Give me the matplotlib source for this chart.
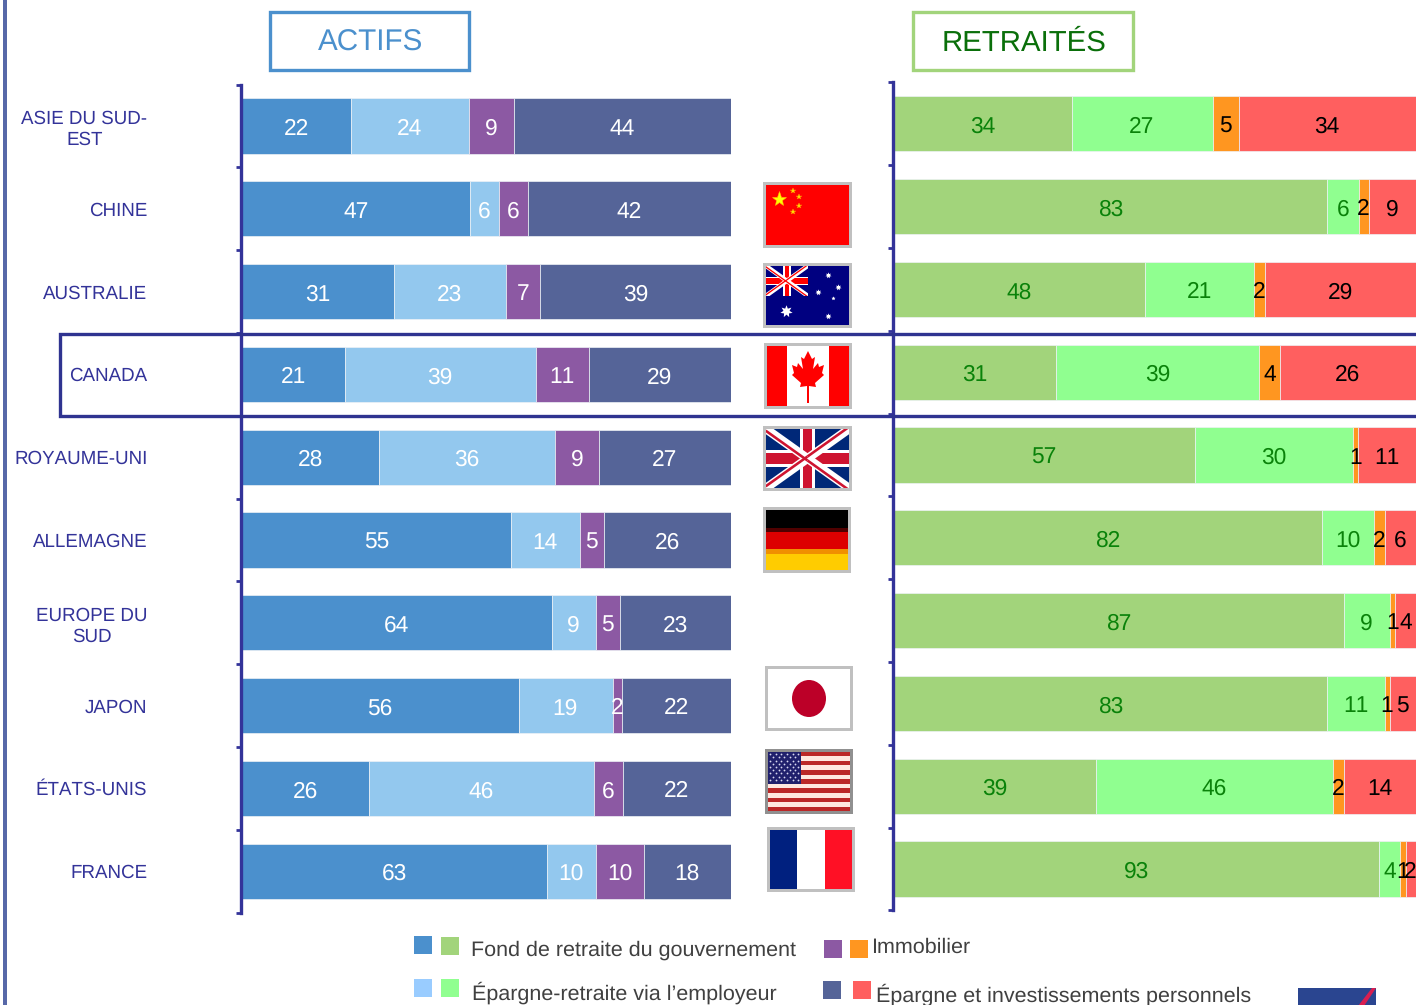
import numpy as np
import matplotlib
matplotlib.use("Agg")
import matplotlib.pyplot as plt
from matplotlib.patches import Rectangle, Ellipse, Polygon

plt.rcParams["font.family"] = ["Liberation Sans", "DejaVu Sans"]
plt.rcParams["text.hinting"] = "no_hinting"
plt.rcParams["text.kerning_factor"] = 16

W, H = 1416, 1005

# Data
countries = [
    "ASIE DU SUD-\nEST", "CHINE", "AUSTRALIE", "CANADA", "ROYAUME-UNI",
    "ALLEMAGNE", "EUROPE DU\nSUD", "JAPON", "ÉTATS-UNIS", "FRANCE",
]
actifs_gouv = [22, 47, 31, 21, 28, 55, 64, 56, 26, 63]
actifs_empl = [24, 6, 23, 39, 36, 14, 9, 19, 46, 10]
actifs_immo = [9, 6, 7, 11, 9, 5, 5, 2, 6, 10]
actifs_perso = [44, 42, 39, 29, 27, 26, 23, 22, 22, 18]

retr_gouv = [34, 83, 48, 31, 57, 82, 87, 83, 39, 93]
retr_empl = [27, 6, 21, 39, 30, 10, 9, 11, 46, 4]
retr_immo = [5, 2, 2, 4, 1, 2, 1, 1, 2, 1]
retr_perso = [34, 9, 29, 26, 11, 6, 4, 5, 14, 2]

actifs_colors = ["#4b90cd", "#93c8ee", "#8c59a3", "#556498"]
retr_colors = ["#a2d47b", "#90ff90", "#ff9620", "#ff5f5f"]
actifs_text = ["white", "white", "white", "white"]
retr_text = ["#0a820a", "#0a820a", "black", "black"]

NAVY = "#333399"


def px_axes(x, y, w, h):
    return fig.add_axes([x / W, 1 - (y + h) / H, w / W, h / H])


def stacked(ax, series, colors, text_colors):
    series = np.array(series, dtype=float)
    shares = series / series.sum(axis=0) * 100  # the bars fill the full width
    ypos = np.arange(len(countries))
    left = np.zeros(len(countries))
    for i in range(len(series)):
        ax.barh(ypos, shares[i], 0.668, left=left, color=colors[i],
                edgecolor="#eef2f6", linewidth=0.5)
        for j in range(len(countries)):
            ax.annotate(str(int(series[i][j])), (left[j] + shares[i][j] / 2, ypos[j]),
                        xytext=(-0.2, -0.4), textcoords="offset points", ha="center",
                        va="center_baseline", color=text_colors[i], fontsize=16.4,
                        annotation_clip=False)
        left += shares[i]
    ax.set_xlim(0, 100)
    ax.set_ylim(len(countries) - 0.5, -0.5)
    ax.set_xticks([])
    for side in ["top", "right", "bottom"]:
        ax.spines[side].set_visible(False)
    ax.spines["left"].set_position(("outward", 0.8))
    ax.spines["left"].set_color(NAVY)
    ax.spines["left"].set_linewidth(2.4)
    ax.set_yticks(np.arange(-0.5, len(countries)), minor=True)
    ax.tick_params(axis="y", which="minor", length=3.6, width=2, color=NAVY)
    ax.tick_params(axis="y", which="major", length=0)


fig = plt.figure(figsize=(W / 100, H / 100), dpi=100)

ax1 = px_axes(242.3, 84.6, 488.7, 828)
stacked(ax1, [actifs_gouv, actifs_empl, actifs_immo, actifs_perso], actifs_colors, actifs_text)
ax1.set_yticks(np.arange(len(countries)), countries, fontsize=13.5, color=NAVY,
               ha="right", multialignment="center", linespacing=1.25)
ax1.tick_params(axis="y", which="major", pad=67.6)

ax2 = px_axes(894.3, 82.4, 521.7, 828)
stacked(ax2, [retr_gouv, retr_empl, retr_immo, retr_perso], retr_colors, retr_text)
ax2.set_yticks([])

# Overlay in pixel coordinates for boxes, flags and legend
ov = fig.add_axes([0, 0, 1, 1], facecolor="none")
ov.set_xlim(0, W)
ov.set_ylim(H, 0)
ov.axis("off")


def rect(x0, y0, x1, y1, color, **kw):
    ov.add_patch(Rectangle((x0, y0), x1 - x0, y1 - y0, facecolor=color, edgecolor="none", **kw))


def frame(x0, y0, x1, y1, color, lw):
    ov.add_patch(Rectangle((x0, y0), x1 - x0, y1 - y0, facecolor="none", edgecolor=color, linewidth=lw))


# left rule and Canada box
rect(3.3, 0, 6.8, H, "#5768a8")
ov.plot([1420, 60, 60, 1420], [334.2, 334.2, 415.8, 415.8], color="#2f3390", lw=2.4,
        solid_joinstyle="miter", clip_on=True)

# Panel titles
frame(270, 11.6, 469, 70, "#4b90cd", 2.4)
ov.text(370.5, 51, "ACTIFS", color="#4b90cd", fontsize=21.3, ha="center", va="baseline")
frame(913, 11.6, 1133, 70, "#a2d47b", 2.4)
ov.text(1024, 51, "RETRAITÉS", color="#0a6f0a", fontsize=21.2, ha="center", va="baseline")


def flag_back(x0, y0, x1, y1, color="white", border="#c0c0c0"):
    rect(x0, y0, x1, y1, border)
    rect(x0 + 2.7, y0 + 2.7, x1 - 2.7, y1 - 2.7, color)
    return x0 + 2.7, y0 + 2.7, x1 - 2.7, y1 - 2.7


def union_jack(x0, y0, x1, y1, blue, red):
    clip = Rectangle((x0, y0), x1 - x0, y1 - y0, transform=ov.transData)
    rect(x0, y0, x1, y1, blue)
    u = (y1 - y0) / 30
    xm, ym = (x0 + x1) / 2, (y0 + y1) / 2
    for xa, xb in [(x0, x1), (x1, x0)]:
        ln, = ov.plot([xa, xb], [y0, y1], color="white", lw=4.4 * u * 0.72, solid_capstyle="butt")
        ln.set_clip_path(clip)
    # the red diagonals sit off-centre in the white ones
    for xc, yc, off in [(x0, y0, u), (x1, y0, -u), (x0, y1, -u), (x1, y1, u)]:
        ln, = ov.plot([xc, xm], [yc + off, ym + off], color=red, lw=1.3 * u * 0.72, solid_capstyle="butt")
        ln.set_clip_path(clip)
    rect(xm - 3.8 * u, y0, xm + 3.8 * u, y1, "white")
    rect(x0, ym - 4.2 * u, x1, ym + 4.2 * u, "white")
    rect(xm - 2.3 * u, y0, xm + 2.3 * u, y1, red)
    rect(x0, ym - 2.7 * u, x1, ym + 2.7 * u, red)


# China
flag_back(763, 182, 852, 248, "#ff0000")
ov.plot([779], [199], marker="*", ms=11, color="#ffff00", mec="#ffc000", mew=0.4)
ov.plot([793, 799, 799, 793], [191, 197, 206, 212], ls="none", marker="*", ms=4,
        color="#ffe000", mec="#ff9000", mew=0.3)

# Australia
ax0, ay0, ax3, ay3 = flag_back(763, 263, 852, 328, "#000080")
union_jack(ax0, ay0, 808, 296, "#000080", "#ff0000")
ov.plot([828, 838, 818, 828], [275, 287, 292, 316], ls="none", marker=(7, 1, 0), ms=4.5, color="white", mew=0)
ov.plot([833], [298], marker=(5, 1, 0), ms=3, color="white", mew=0)
ov.plot([786], [311], marker=(7, 1, 0), ms=9, color="white", mew=0)

# Canada
cx0, cy0, cx1, cy1 = flag_back(764, 343, 852, 409, "white")
rect(cx0, cy0, 787, cy1, "#ff0000")
rect(829, cy0, cx1, cy1, "#ff0000")
leaf_half = [(0, 351), (4, 359), (7, 357), (5, 369), (10, 363), (11, 367), (16, 365),
             (14, 373), (16, 375), (7, 383), (8, 387), (1, 386), (1, 403)]
leaf = [(808 + dx, yy) for dx, yy in leaf_half] + [(808 - dx, yy) for dx, yy in reversed(leaf_half)]
ov.add_patch(Polygon(leaf, closed=True, facecolor="#ff0000", edgecolor="none"))

# UK
ux0, uy0, ux1, uy1 = flag_back(763, 426, 852, 491)
union_jack(ux0, uy0, ux1, uy1, "#002878", "#ce1430")

# Germany
gx0, gy0, gx1, gy1 = flag_back(763, 507, 851, 573)
for top, bottom, col in [(510, 527.5, "#000000"), (527.5, 532, "#500000"), (532, 549, "#dd0000"),
                         (549, 554, "#f09000"), (554, gy1, "#ffcc00")]:
    rect(gx0, top, gx1, bottom, col)

# Japan
flag_back(765, 666, 853, 731)
ov.add_patch(Ellipse((809, 698.5), 34, 37, facecolor="#bc0028", edgecolor="none"))

# USA
sx0, sy0, sx1, sy1 = flag_back(765, 749, 853, 814, "white", "#909090")
stripe_h = (sy1 - sy0) / 13
for i in range(13):
    rect(sx0, sy0 + i * stripe_h, sx1, sy0 + (i + 1) * stripe_h, "#bb2828" if i % 2 == 0 else "#ffe8e0")
rect(sx0, sy0, 801, 784, "#20206c")
for row in range(9):
    offs = 0 if row % 2 == 0 else 2.8
    star_x = np.arange(sx0 + 2.5 + offs, 800, 5.6)
    ov.plot(star_x, np.full(len(star_x), sy0 + 2.5 + row * 3.2), ls="none", marker=".", ms=2.6,
            color="#d8d8f0", mew=0)

# France
fx0, fy0, fx1, fy1 = flag_back(767, 827, 855, 892)
rect(fx0, fy0, 797, fy1, "#00207f")
rect(825, fy0, fx1, fy1, "#ff1025")

# Legend
for x0, y0, col in [(414, 936, "#4b90cd"), (441, 937, "#a2d47b"), (824, 940, "#8c59a3"), (850, 940, "#ff9620"),
                    (414, 979, "#99ccff"), (441, 979, "#90ff90"), (823, 981, "#556498"), (853, 981, "#ff5f5f")]:
    rect(x0, y0, x0 + 18, y0 + 18, col)
legend_color = "#404040"
ov.text(471, 950.5, "Fond de retraite du gouvernement", fontsize=15.48, color=legend_color, va="center")
ov.text(871.5, 947.5, "Immobilier", fontsize=15.48, color=legend_color, va="center")
ov.text(472, 992.5, "Épargne-retraite via l’employeur", fontsize=15.48, color=legend_color, va="center")
ov.text(875.5, 995, "Épargne et investissements personnels", fontsize=15.48, color=legend_color, va="center")

# cut-off logo, bottom right
rect(1298, 988, 1376, 1006, "#2a4590")
ov.add_patch(Polygon([(1358, 1006), (1372, 988), (1376, 988), (1364, 1006)], closed=True,
                     facecolor="#d81e50", edgecolor="none"))

fig.savefig("out.png", dpi=100)
